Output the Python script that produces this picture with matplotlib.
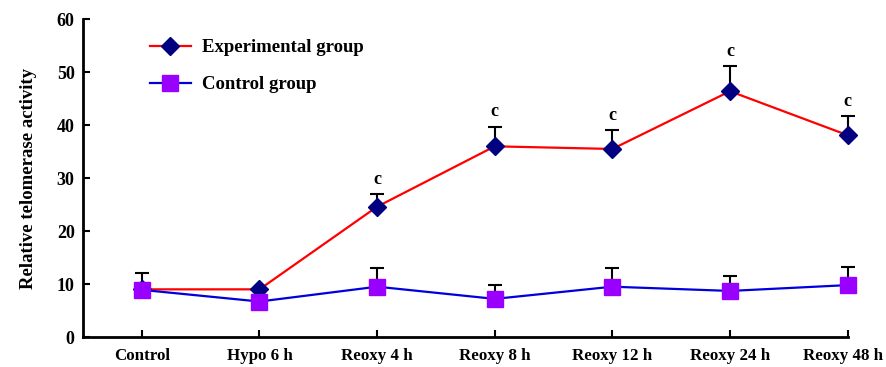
import matplotlib
matplotlib.use("Agg")
import matplotlib.pyplot as plt
from matplotlib.transforms import ScaledTranslation

# data
groups = ["Control", "Hypo 6 h", "Reoxy 4 h", "Reoxy 8 h", "Reoxy 12 h", "Reoxy 24 h", "Reoxy 48 h"]
exp_mean = [9.0, 9.0, 24.6, 36.0, 35.5, 46.4, 38.1]
exp_err = [0.0, 0.0, 2.4, 3.7, 3.6, 4.7, 3.6]
ctl_mean = [8.9, 6.7, 9.5, 7.2, 9.5, 8.7, 9.8]
ctl_err = [3.2, 0.0, 3.6, 2.6, 3.6, 2.9, 3.5]
exp_marks = ["", "", "c", "c", "c", "c", "c"]

plt.rcParams["font.family"] = ["Liberation Serif", "DejaVu Serif"]
plt.rcParams["font.weight"] = "bold"

fig = plt.figure(figsize=(8.86, 3.67), dpi=100)
ax = fig.add_axes([0.0937, 0.0817, 0.863, 0.866])

x = list(range(len(groups)))

# error bars (upper only)
for m, e in [(ctl_mean, ctl_err), (exp_mean, exp_err)]:
    eb = ax.errorbar(x, m, yerr=[[0] * len(x), e], fmt="none", ecolor="black",
                     elinewidth=1.5, capsize=5, capthick=1.5, zorder=2)
    for art in eb.lines[1] + eb.lines[2]:
        art.set_clip_on(False)

ax.plot(x, exp_mean, color="#ff0000", lw=1.6, marker="D", markersize=9,
        markerfacecolor="#000080", markeredgecolor="#000080", label="Experimental group",
        zorder=3, clip_on=False)
ax.plot(x, ctl_mean, color="#0000dd", lw=1.6, marker="s", markersize=11,
        markerfacecolor="#9900ff", markeredgecolor="#9900ff", label="Control group",
        zorder=4, clip_on=False)

for xi, m, e, t in zip(x, exp_mean, exp_err, exp_marks):
    if t:
        ax.text(xi, m + e + 1.2, t, ha="center", va="bottom", fontsize=13, fontweight="bold")

ax.set_xlim(-0.5, 6)
ax.set_ylim(0, 60)
ax.set_yticks(range(0, 61, 10))
ax.set_xticks(x)
ax.set_xticklabels(groups, fontsize=12.2, fontweight="bold")
ax.tick_params(axis="y", labelsize=13, direction="in", length=5, width=1.5, pad=6)
ax.tick_params(axis="x", direction="in", length=5, width=1.5, pad=8)
for lab in ax.get_yticklabels():
    lab.set_fontweight("bold")
# nudge last label so it stays inside the figure
last = ax.get_xticklabels()[-1]
last.set_transform(last.get_transform() + ScaledTranslation(-0.05, 0, fig.dpi_scale_trans))

ax.spines["top"].set_visible(False)
ax.spines["right"].set_visible(False)
ax.spines["left"].set_linewidth(2)
ax.spines["bottom"].set_linewidth(2)
ax.set_ylabel("Relative telomerase activity", fontsize=13.5, fontweight="bold", labelpad=14)

ax.legend(loc="upper left", bbox_to_anchor=(0.065, 0.99), frameon=False,
          handlelength=2.2, handletextpad=0.6, labelspacing=1.05,
          prop={"weight": "bold", "size": 13.5})

fig.savefig("out.png", dpi=100)
